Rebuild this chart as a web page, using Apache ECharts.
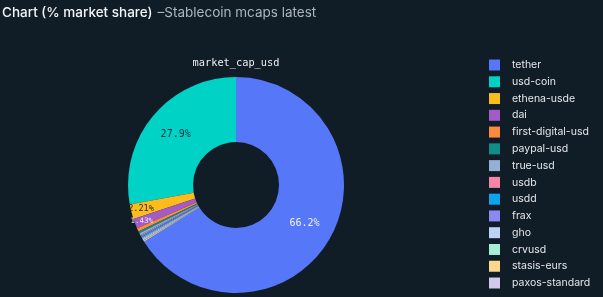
<!DOCTYPE html>
<html><head><meta charset="utf-8">
<script src="https://cdn.jsdelivr.net/npm/echarts@6/dist/echarts.min.js"></script>
<style>html,body{margin:0;padding:0;background:#101c26;}#c{width:603px;height:297px;}</style>
</head><body><div id="c"></div>
<script>
const categories = ['tether','usd-coin','ethena-usde','dai','first-digital-usd','paypal-usd','true-usd','usdb','usdd','frax','gho','crvusd','stasis-eurs','paxos-standard'];
const shares = [66.2, 27.9, 2.21, 1.43, 0.55, 0.3, 0.25, 0.2, 0.2, 0.2, 0.15, 0.15, 0.1, 0.16];
const colors = ['#5677f8','#00d2c6','#fbbc1c','#a45bc6','#fb8a3c','#0f8e88','#95b0d6','#f586a8','#0ea3ef','#8c88f4','#bcd3f6','#a6eed6','#fbd88c','#d3c8ee'];
const labelStyles = [
  {color:'#eef2ff', fontSize:10},
  {color:'#12303a', fontSize:10},
  {color:'#2a2a1a', fontSize:8.5, offset:[-19,4]},
  {color:'#f0e8ff', fontSize:7.5, offset:[-21,8]}
];
const total = shares.reduce((a,b)=>a+b,0);
const startAngle = 90 - shares[0]/total*360;
const chart = echarts.init(document.getElementById('c'));
chart.setOption({
  backgroundColor:'#101c26',
  animation:false,
  color: colors,
  title:[{
    text:'{a|Chart (% market share)} {b|–Stablecoin mcaps latest}',
    left:2, top:4, padding:0,
    textStyle:{rich:{
      a:{fontFamily:'Inter',fontSize:13.5,fontWeight:500,color:'#f2f4f6'},
      b:{fontFamily:'Inter',fontSize:13.5,fontWeight:400,color:'#aeb6bd'}
    }}
  },{
    text:'market_cap_usd',
    left:236, top:58, textAlign:'center', padding:0,
    textStyle:{fontFamily:'DejaVu Sans Mono',fontSize:10.3,fontWeight:'normal',color:'#eef0f2'}
  }],
  legend:{
    orient:'vertical', left:489, top:59.5, padding:0,
    itemWidth:11, itemHeight:11, itemGap:5.77,
    icon:'rect',
    data: categories,
    textStyle:{fontFamily:'Inter',fontSize:10.5,color:'#e4e7ea',padding:[0,0,0,7]},
    inactiveColor:'#555'
  },
  series:[{
    name:'market_cap_usd',
    type:'pie',
    center:[236,185],
    radius:[43,108],
    clockwise:false,
    startAngle:startAngle,
    avoidLabelOverlap:false,
    labelLayout:{hideOverlap:false},
    label:{
      position:'inside',
      fontFamily:'DejaVu Sans Mono',
      fontSize:10,
      formatter:p=>(p.value/total*100).toPrecision(3)+'%'
    },
    labelLine:{show:false},
    emphasis:{disabled:true},
    data: categories.map((n,i)=>({
      name:n, value:shares[i],
      label: i<4 ? Object.assign({show:true}, labelStyles[i]) : {show:false}
    }))
  }]
});
</script></body></html>
